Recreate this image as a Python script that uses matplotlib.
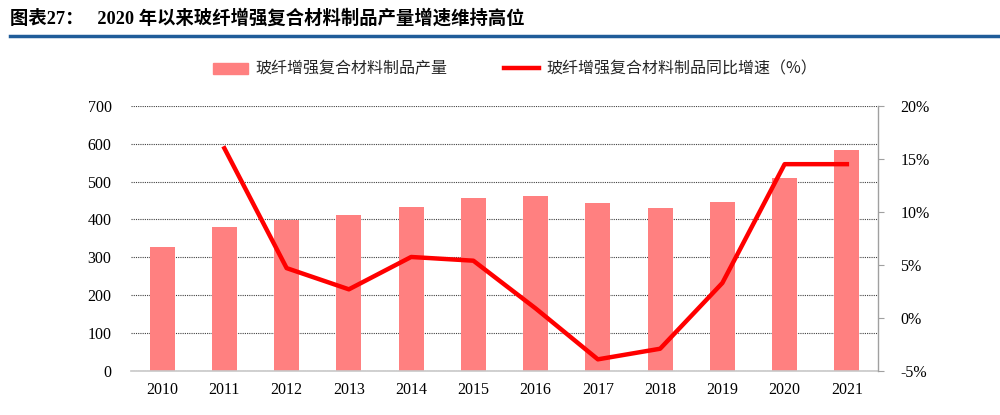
import matplotlib
matplotlib.use('Agg')
import matplotlib.pyplot as plt
import numpy as np
from matplotlib.lines import Line2D
from matplotlib.patches import Patch

years = ['2010', '2011', '2012', '2013', '2014', '2015', '2016', '2017', '2018', '2019', '2020', '2021']
output = [327, 380, 399, 412, 433, 457, 462, 444, 430, 446, 510, 584]
growth_years = years[1:]
growth = [16.0, 4.7, 2.7, 5.75, 5.4, 0.9, -3.9, -2.9, 3.3, 14.5, 14.5]

serif = ['Liberation Serif', 'Noto Sans CJK SC']
cjk = ['Noto Sans CJK SC', 'DejaVu Sans']
bar_color = '#FF8080'
line_color = '#FF0000'

fig = plt.figure(figsize=(10, 4.15), dpi=100)
ax = fig.add_axes([0.131, 0.106, 0.747, 0.639])
ax2 = ax.twinx()

x = np.arange(len(years))
ax.bar(x, output, width=0.4, color=bar_color, zorder=2)
ax.set_xlim(-0.5, len(years) - 0.5)
ax.set_ylim(0, 700)
ax.set_yticks(range(0, 701, 100))
ax.set_xticks(x)
ax.set_xticklabels(years)
ax.yaxis.grid(True, linestyle=(0, (1, 1)), color='#404040', linewidth=0.8, zorder=0)
ax.set_axisbelow(True)
for s in ['left', 'top', 'right']:
    ax.spines[s].set_visible(False)
ax.spines['bottom'].set_color('#C8C8C8')
ax.spines['bottom'].set_linewidth(1.2)
ax.tick_params(axis='y', length=0, pad=14)
ax.tick_params(axis='x', length=0, pad=8)

gx = [years.index(y) for y in growth_years]
ax2.plot(gx, growth, color=line_color, linewidth=3.2, zorder=3)
ax2.set_ylim(-5, 20)
ax2.set_yticks(range(-5, 21, 5))
ax2.set_yticklabels([f'{v}%' for v in range(-5, 21, 5)])
for s in ['left', 'top', 'bottom']:
    ax2.spines[s].set_visible(False)
ax2.spines['right'].set_color('#A0A0A0')
ax2.spines['right'].set_linewidth(1.0)
ax2.tick_params(axis='y', length=4, color='#A0A0A0', pad=12)

for a in (ax, ax2):
    for lab in a.get_xticklabels() + a.get_yticklabels():
        lab.set_family(serif)
        lab.set_fontsize(11.5)
        lab.set_color('black')

handles = [Patch(color=bar_color), Line2D([], [], color=line_color, linewidth=3.2)]
labels = ['玻纤增强复合材料制品产量', '玻纤增强复合材料制品同比增速（%）']
fig.legend(handles, labels, loc='center', bbox_to_anchor=(0.515, 0.833), ncol=2,
           frameon=False, prop={'family': cjk, 'size': 11.5}, columnspacing=3.5,
           handlelength=2.2, handletextpad=0.5, labelcolor='#262626')

fig.text(0.01, 0.955, '图表27：   2020 年以来玻纤增强复合材料制品产量增速维持高位',
         family=serif, fontsize=13.2, fontweight='bold', va='center', ha='left')
fig.add_artist(Line2D([0.01, 1.0], [0.913, 0.913], color='#1F5C99', linewidth=2.5,
                      transform=fig.transFigure))

fig.savefig('out.png', dpi=100)
